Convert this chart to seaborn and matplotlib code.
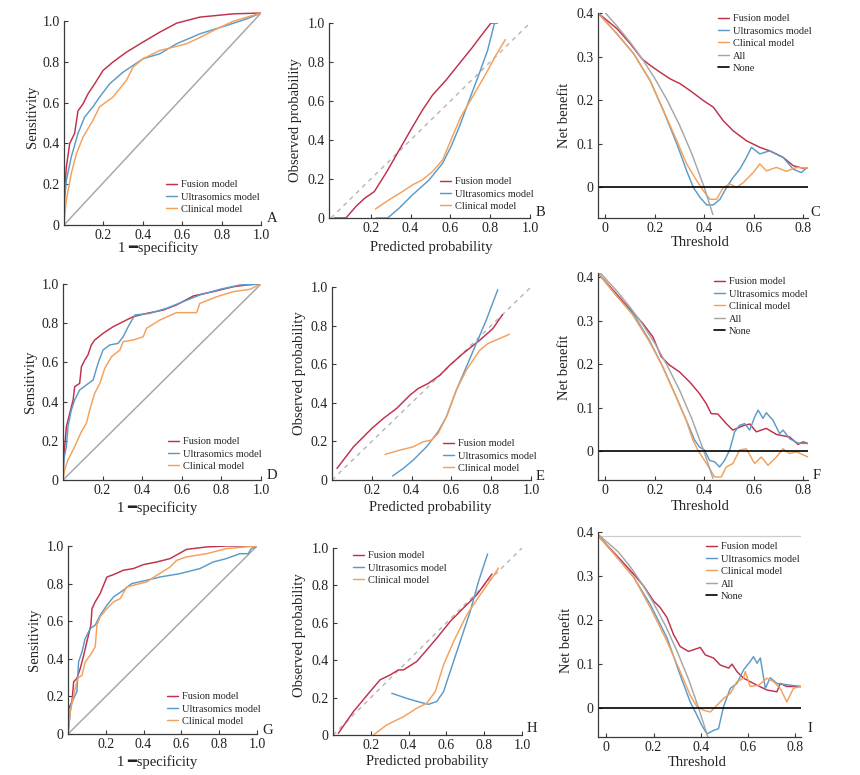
import matplotlib
matplotlib.use('Agg')
import matplotlib.pyplot as plt
from matplotlib.ticker import FuncFormatter
import seaborn as sns

sns.set_theme(style='white')
plt.rcParams['font.family'] = ['Liberation Serif', 'DejaVu Sans']

W, H = 860, 775

RED = '#C0304A'
BLUE = '#5B9BC9'
ORANGE = '#F5A05A'
GRAY = '#A6A6A6'

names = ['Fusion model', 'Ultrasomics model', 'Clinical model']

# ---------------- ROC A ----------------
roc_a_fus_x = [0, 0.0, 0.012, 0.029, 0.054, 0.071, 0.097, 0.122, 0.156, 0.198, 0.249, 0.317, 0.40, 0.486, 0.571, 0.69, 0.86, 1.0]
roc_a_fus_y = [0, 0.14, 0.285, 0.40, 0.45, 0.56, 0.595, 0.644, 0.693, 0.758, 0.80, 0.848, 0.897, 0.946, 0.99, 1.02, 1.036, 1.04]
roc_a_ult_x = [0, 0.003, 0.012, 0.037, 0.071, 0.105, 0.147, 0.181, 0.232, 0.30, 0.351, 0.402, 0.486, 0.571, 0.69, 0.825, 0.927, 1.0]
roc_a_ult_y = [0, 0.12, 0.22, 0.334, 0.449, 0.53, 0.58, 0.628, 0.693, 0.75, 0.783, 0.816, 0.84, 0.889, 0.938, 0.979, 1.011, 1.04]
roc_a_cli_x = [0, 0.005, 0.012, 0.037, 0.063, 0.097, 0.147, 0.181, 0.249, 0.317, 0.351, 0.402, 0.486, 0.622, 0.69, 0.775, 0.86, 1.0]
roc_a_cli_y = [0, 0.06, 0.122, 0.253, 0.35, 0.432, 0.514, 0.58, 0.628, 0.71, 0.775, 0.816, 0.856, 0.889, 0.92, 0.962, 1.0, 1.04]
roc_a_diag_y = [0, 1.04]

# ---------------- ROC D ----------------
roc_d_fus_x = [0, 0.003, 0.017, 0.034, 0.051, 0.059, 0.084, 0.093, 0.11, 0.126, 0.143, 0.16, 0.202, 0.253, 0.304, 0.354, 0.422, 0.506, 0.573, 0.658, 0.759, 0.86, 0.927, 1.0]
roc_d_fus_y = [0, 0.102, 0.272, 0.34, 0.408, 0.476, 0.493, 0.578, 0.612, 0.638, 0.689, 0.714, 0.748, 0.782, 0.808, 0.833, 0.85, 0.867, 0.893, 0.939, 0.961, 0.986, 0.995, 1.0]
roc_d_ult_x = [0, 0.005, 0.017, 0.025, 0.042, 0.059, 0.084, 0.118, 0.152, 0.177, 0.202, 0.236, 0.278, 0.304, 0.329, 0.363, 0.438, 0.523, 0.607, 0.691, 0.793, 0.894, 1.0]
roc_d_ult_y = [0, 0.11, 0.17, 0.272, 0.357, 0.408, 0.459, 0.485, 0.51, 0.595, 0.663, 0.689, 0.697, 0.731, 0.782, 0.842, 0.85, 0.876, 0.91, 0.944, 0.973, 0.995, 1.0]
roc_d_cli_x = [0, 0.008, 0.025, 0.059, 0.093, 0.118, 0.135, 0.16, 0.186, 0.211, 0.245, 0.287, 0.304, 0.354, 0.405, 0.422, 0.489, 0.573, 0.675, 0.691, 0.776, 0.86, 0.944, 1.0]
roc_d_cli_y = [0, 0.051, 0.102, 0.17, 0.247, 0.289, 0.357, 0.442, 0.493, 0.57, 0.629, 0.663, 0.706, 0.714, 0.731, 0.774, 0.816, 0.854, 0.854, 0.901, 0.935, 0.961, 0.973, 1.0]

# ---------------- ROC G ----------------
roc_g_fus_x = [0, 0.004, 0.021, 0.03, 0.047, 0.065, 0.083, 0.104, 0.121, 0.127, 0.144, 0.17, 0.188, 0.206, 0.241, 0.293, 0.346, 0.399, 0.469, 0.54, 0.627, 0.733, 0.838, 1.0]
roc_g_fus_y = [0, 0.136, 0.172, 0.278, 0.296, 0.349, 0.419, 0.508, 0.579, 0.667, 0.703, 0.747, 0.791, 0.835, 0.848, 0.871, 0.88, 0.901, 0.915, 0.933, 0.982, 0.995, 1.0, 1.0]
roc_g_ult_x = [0, 0.007, 0.016, 0.03, 0.047, 0.056, 0.074, 0.091, 0.118, 0.144, 0.17, 0.206, 0.241, 0.293, 0.337, 0.417, 0.487, 0.592, 0.698, 0.768, 0.838, 0.909, 0.953, 0.97, 1.0]
roc_g_ult_y = [0, 0.065, 0.154, 0.189, 0.225, 0.384, 0.437, 0.508, 0.561, 0.579, 0.632, 0.685, 0.729, 0.765, 0.8, 0.818, 0.835, 0.853, 0.88, 0.915, 0.933, 0.959, 0.959, 0.986, 1.0]
roc_g_cli_x = [0, 0.012, 0.03, 0.051, 0.074, 0.091, 0.118, 0.144, 0.153, 0.17, 0.206, 0.241, 0.276, 0.311, 0.346, 0.417, 0.469, 0.54, 0.575, 0.627, 0.733, 0.838, 0.943, 1.0]
roc_g_cli_y = [0, 0.119, 0.207, 0.296, 0.313, 0.384, 0.419, 0.464, 0.579, 0.623, 0.667, 0.703, 0.72, 0.782, 0.791, 0.809, 0.844, 0.888, 0.924, 0.942, 0.959, 0.986, 0.995, 1.0]

roc_diag_x = [0, 1]
roc_diag_y = [0, 1]

# ---------------- calibration B ----------------
cal_b_fus_x = [0.017, 0.075, 0.126, 0.168, 0.218, 0.276, 0.343, 0.41, 0.46, 0.51, 0.578, 0.645, 0.712, 0.762, 0.804, 0.829]
cal_b_fus_y = [0, 0, 0.06, 0.10, 0.136, 0.23, 0.349, 0.468, 0.554, 0.63, 0.707, 0.792, 0.877, 0.945, 1.0, 1.0]
cal_b_ult_x = [0.226, 0.285, 0.343, 0.41, 0.494, 0.561, 0.603, 0.645, 0.695, 0.745, 0.787, 0.821, 0.838]
cal_b_ult_y = [0, 0, 0.051, 0.119, 0.196, 0.281, 0.366, 0.468, 0.605, 0.741, 0.86, 0.997, 1.0]
cal_b_cli_x = [0.223, 0.293, 0.36, 0.41, 0.46, 0.51, 0.561, 0.603, 0.653, 0.712, 0.779, 0.829, 0.876]
cal_b_cli_y = [0.046, 0.094, 0.136, 0.17, 0.196, 0.238, 0.298, 0.4, 0.52, 0.622, 0.741, 0.835, 0.915]

# ---------------- calibration E ----------------
cal_e_fus_x = [0.025, 0.108, 0.2, 0.258, 0.325, 0.392, 0.433, 0.483, 0.542, 0.592, 0.658, 0.742, 0.808, 0.857]
cal_e_fus_y = [0.06, 0.172, 0.267, 0.319, 0.371, 0.44, 0.474, 0.5, 0.543, 0.595, 0.655, 0.724, 0.784, 0.857]
cal_e_ult_x = [0.305, 0.358, 0.408, 0.475, 0.533, 0.575, 0.625, 0.675, 0.725, 0.775, 0.833]
cal_e_ult_y = [0.021, 0.06, 0.103, 0.172, 0.25, 0.328, 0.466, 0.586, 0.707, 0.828, 0.986]
cal_e_cli_x = [0.267, 0.342, 0.408, 0.458, 0.5, 0.533, 0.575, 0.625, 0.675, 0.742, 0.783, 0.842, 0.892]
cal_e_cli_y = [0.133, 0.155, 0.172, 0.198, 0.207, 0.241, 0.328, 0.466, 0.569, 0.672, 0.707, 0.733, 0.755]

# ---------------- calibration H ----------------
cal_h_fus_x = [0.028, 0.108, 0.196, 0.249, 0.302, 0.346, 0.373, 0.443, 0.496, 0.549, 0.62, 0.69, 0.761, 0.841]
cal_h_fus_y = [0.009, 0.125, 0.232, 0.295, 0.321, 0.348, 0.348, 0.393, 0.455, 0.518, 0.607, 0.679, 0.75, 0.861]
cal_h_ult_x = [0.311, 0.39, 0.461, 0.505, 0.549, 0.585, 0.62, 0.673, 0.726, 0.77, 0.818]
cal_h_ult_y = [0.223, 0.196, 0.175, 0.164, 0.179, 0.232, 0.339, 0.5, 0.661, 0.821, 0.968]
cal_h_cli_x = [0.214, 0.284, 0.373, 0.443, 0.496, 0.541, 0.585, 0.638, 0.708, 0.779, 0.841, 0.876]
cal_h_cli_y = [0, 0.054, 0.098, 0.143, 0.17, 0.232, 0.375, 0.5, 0.643, 0.75, 0.839, 0.893]

cal_diag_x = [0, 1]
cal_diag_y = [0, 1]

# ---------------- DCA C ----------------
dca_c_fus_x = [-0.03, 0.047, 0.1, 0.148, 0.181, 0.222, 0.262, 0.302, 0.343, 0.397, 0.437, 0.477, 0.517, 0.571, 0.625, 0.665, 0.719, 0.76, 0.8, 0.82]
dca_c_fus_y = [0.4, 0.364, 0.33, 0.295, 0.28, 0.264, 0.249, 0.238, 0.222, 0.199, 0.184, 0.153, 0.130, 0.107, 0.092, 0.084, 0.069, 0.05, 0.044, 0.044]
dca_c_ult_x = [-0.03, 0.047, 0.114, 0.181, 0.235, 0.289, 0.329, 0.356, 0.383, 0.41, 0.437, 0.464, 0.49, 0.517, 0.544, 0.571, 0.591, 0.625, 0.665, 0.719, 0.76, 0.793, 0.813]
dca_c_ult_y = [0.4, 0.352, 0.307, 0.245, 0.176, 0.1, 0.038, 0.0, -0.023, -0.04, -0.04, -0.027, 0.0, 0.023, 0.042, 0.069, 0.092, 0.077, 0.084, 0.069, 0.042, 0.034, 0.044]
dca_c_cli_x = [-0.03, 0.047, 0.114, 0.181, 0.235, 0.289, 0.329, 0.37, 0.397, 0.423, 0.45, 0.477, 0.504, 0.531, 0.558, 0.598, 0.625, 0.652, 0.692, 0.733, 0.773, 0.82]
dca_c_cli_y = [0.4, 0.352, 0.307, 0.245, 0.176, 0.107, 0.054, 0.015, -0.008, -0.027, -0.027, 0.0, 0.008, 0.0, 0.011, 0.034, 0.054, 0.038, 0.046, 0.037, 0.046, 0.044]
dca_c_all_x = [0.0, 0.05, 0.1, 0.15, 0.2, 0.25, 0.3, 0.35, 0.4, 0.435]
dca_c_all_y = [0.4, 0.368, 0.333, 0.294, 0.25, 0.2, 0.143, 0.077, 0.0, -0.062]

# ---------------- DCA F ----------------
dca_f_fus_x = [-0.03, 0.043, 0.097, 0.151, 0.192, 0.226, 0.259, 0.3, 0.341, 0.381, 0.408, 0.428, 0.455, 0.489, 0.516, 0.557, 0.584, 0.611, 0.651, 0.692, 0.746, 0.78, 0.8, 0.82]
dca_f_fus_y = [0.41, 0.363, 0.328, 0.294, 0.263, 0.217, 0.198, 0.182, 0.159, 0.132, 0.109, 0.086, 0.085, 0.063, 0.048, 0.058, 0.062, 0.044, 0.052, 0.038, 0.032, 0.015, 0.021, 0.017]
dca_f_ult_x = [-0.03, 0.043, 0.111, 0.178, 0.232, 0.286, 0.327, 0.361, 0.381, 0.401, 0.422, 0.442, 0.462, 0.482, 0.503, 0.523, 0.543, 0.564, 0.584, 0.604, 0.618, 0.638, 0.651, 0.678, 0.705, 0.719, 0.746, 0.78, 0.82]
dca_f_ult_y = [0.41, 0.359, 0.317, 0.255, 0.194, 0.125, 0.071, 0.025, 0.009, 0.002, -0.022, -0.025, -0.037, -0.022, 0.002, 0.044, 0.059, 0.063, 0.048, 0.078, 0.094, 0.075, 0.088, 0.071, 0.04, 0.048, 0.028, 0.018, 0.017]
dca_f_cli_x = [-0.03, 0.043, 0.111, 0.178, 0.232, 0.286, 0.327, 0.354, 0.374, 0.401, 0.422, 0.442, 0.469, 0.489, 0.516, 0.543, 0.57, 0.604, 0.631, 0.658, 0.692, 0.719, 0.746, 0.773, 0.82]
dca_f_cli_y = [0.41, 0.359, 0.313, 0.252, 0.194, 0.125, 0.071, 0.025, 0.002, -0.022, -0.041, -0.06, -0.06, -0.037, -0.029, 0.002, 0.005, -0.029, -0.014, -0.033, -0.014, 0.005, -0.006, -0.002, -0.014]
dca_f_all_x = [-0.02, 0.05, 0.1, 0.15, 0.2, 0.25, 0.3, 0.35, 0.4, 0.435]
dca_f_all_y = [0.41, 0.366, 0.331, 0.292, 0.248, 0.197, 0.14, 0.074, -0.003, -0.063]

# ---------------- DCA I ----------------
dca_i_fus_x = [-0.035, 0.045, 0.116, 0.158, 0.2, 0.228, 0.257, 0.285, 0.313, 0.348, 0.37, 0.398, 0.419, 0.454, 0.482, 0.518, 0.532, 0.553, 0.581, 0.609, 0.638, 0.68, 0.722, 0.736, 0.764, 0.824]
dca_i_fus_y = [0.392, 0.346, 0.304, 0.277, 0.243, 0.228, 0.205, 0.166, 0.139, 0.128, 0.132, 0.137, 0.12, 0.113, 0.097, 0.09, 0.099, 0.082, 0.067, 0.059, 0.051, 0.04, 0.036, 0.055, 0.048, 0.048]
dca_i_ult_x = [-0.035, 0.045, 0.116, 0.186, 0.257, 0.313, 0.355, 0.377, 0.405, 0.426, 0.454, 0.475, 0.496, 0.525, 0.553, 0.581, 0.609, 0.623, 0.638, 0.652, 0.673, 0.694, 0.722, 0.779, 0.824]
dca_i_ult_y = [0.392, 0.343, 0.297, 0.235, 0.159, 0.074, 0.013, -0.01, -0.041, -0.06, -0.052, -0.048, 0.002, 0.044, 0.055, 0.086, 0.105, 0.116, 0.101, 0.113, 0.044, 0.068, 0.055, 0.051, 0.048]
dca_i_cli_x = [-0.035, 0.045, 0.116, 0.186, 0.257, 0.313, 0.355, 0.384, 0.412, 0.44, 0.468, 0.496, 0.525, 0.553, 0.581, 0.588, 0.609, 0.645, 0.68, 0.708, 0.736, 0.764, 0.792, 0.824]
dca_i_cli_y = [0.392, 0.343, 0.297, 0.228, 0.151, 0.082, 0.028, 0.002, -0.006, -0.01, 0.005, 0.021, 0.032, 0.059, 0.067, 0.082, 0.048, 0.051, 0.067, 0.059, 0.044, 0.013, 0.044, 0.048]
dca_i_all_x = [-0.035, 0.05, 0.1, 0.15, 0.2, 0.25, 0.3, 0.35, 0.39, 0.43]
dca_i_all_y = [0.395, 0.355, 0.322, 0.283, 0.238, 0.187, 0.128, 0.062, 0.0, -0.067]
dca_i_top_x = [-0.035, 0.824]
dca_i_top_y = [0.392, 0.392]

roc_ticks = [0.2, 0.4, 0.6, 0.8, 1.0]
prob_yticks = [0, 0.2, 0.4, 0.6, 0.8, 1.0]
dca_xticks = [0, 0.2, 0.4, 0.6, 0.8]
dca_yticks = [0, 0.1, 0.2, 0.3, 0.4]

fig = plt.figure(figsize=(W / 100, H / 100), dpi=100)


def px_axes(x0, x1, y0, y1):
    # pixel box: x0/x1 left/right, y0 bottom, y1 top (image coordinates)
    return fig.add_axes([x0 / W, 1 - y0 / H, (x1 - x0) / W, (y0 - y1) / H])


def fmt(v, pos):
    return '0' if abs(v) < 1e-9 else f'{v:.1f}'


def style(ax, xlim, ylim, xticks, yticks, ytop=None):
    ax.set_xlim(xlim)
    ax.set_ylim(ylim)
    ax.set_xticks(xticks)
    ax.set_yticks(yticks)
    ax.xaxis.set_major_formatter(FuncFormatter(fmt))
    ax.yaxis.set_major_formatter(FuncFormatter(fmt))
    for s in ['top', 'right']:
        ax.spines[s].set_visible(False)
    for s in ['left', 'bottom']:
        ax.spines[s].set_color('#3a3a3a')
        ax.spines[s].set_linewidth(0.9)
    if ytop is not None:
        ax.spines['left'].set_bounds(ylim[0], ytop)
    ax.tick_params(bottom=True, left=True, direction='in', length=3, width=0.8,
                   color='#3a3a3a', labelsize=10, labelcolor='#222222', pad=3)
    ax.patch.set_alpha(0)


def line(ax, x, y, color, label=None, lw=1.05, ls='-'):
    sns.lineplot(x=x, y=y, ax=ax, color=color, lw=lw, ls=ls, sort=False,
                 estimator=None, label=label, legend=False)


def labels(ax, xl, yl, xpos, ypos):
    ax.set_xlabel(xl, fontsize=10.5, color='#222222')
    ax.set_ylabel(yl, fontsize=10.5, color='#222222')
    ax.xaxis.set_label_coords(xpos[0] / W, 1 - xpos[1] / H, transform=fig.transFigure)
    ax.yaxis.set_label_coords(ypos[0] / W, 1 - ypos[1] / H, transform=fig.transFigure)
    ax.xaxis.label.set_va('center')
    ax.yaxis.label.set_va('center')


def legend(ax, hx, top, n):
    ax.legend(loc='upper left', bbox_to_anchor=(hx / W, 1 - top / H), bbox_transform=fig.transFigure,
              frameon=False, fontsize=7.5, handlelength=1.1, handletextpad=0.3,
              labelspacing=0.3, borderpad=0, borderaxespad=0)


def letter(ax, s, x, y):
    fig.text(x / W, 1 - y / H, s, fontsize=10.5, ha='center', va='center', color='#222222')


def roc_panel(box, fus, ult, cli, diag_y, ylim, ytop, leg, let, xlab, ylab):
    ax = px_axes(*box)
    line(ax, roc_diag_x, diag_y, GRAY)
    line(ax, fus[0], fus[1], RED, names[0])
    line(ax, ult[0], ult[1], BLUE, names[1])
    line(ax, cli[0], cli[1], ORANGE, names[2])
    style(ax, (0, 1), ylim, roc_ticks, prob_yticks, ytop)
    labels(ax, '1 \u2501specificity', 'Sensitivity', xlab, ylab)
    legend(ax, *leg, 3)
    letter(ax, *let)


def cal_panel(box, fus, ult, cli, xlim, leg, let, xlab, ylab):
    ax = px_axes(*box)
    line(ax, cal_diag_x, cal_diag_y, '#B8B8B8', ls=(0, (3, 3)))
    line(ax, fus[0], fus[1], RED, names[0])
    line(ax, ult[0], ult[1], BLUE, names[1])
    line(ax, cli[0], cli[1], ORANGE, names[2])
    style(ax, xlim, (0, 1), roc_ticks, prob_yticks)
    labels(ax, 'Predicted probability', 'Observed probability', xlab, ylab)
    legend(ax, *leg, 3)
    letter(ax, *let)


def dca_panel(box, fus, ult, cli, alls, xlim, ylim, leg, let, xlab, ylab, top=None):
    ax = px_axes(*box)
    if top is not None:
        line(ax, top[0], top[1], '#CCCCCC', lw=0.9)
    line(ax, fus[0], fus[1], RED, names[0])
    line(ax, ult[0], ult[1], BLUE, names[1])
    line(ax, cli[0], cli[1], ORANGE, names[2])
    line(ax, alls[0], alls[1], GRAY, 'All')
    ax.axhline(0, color='black', lw=1.2, label='None')
    style(ax, xlim, ylim, dca_xticks, dca_yticks)
    labels(ax, 'Threshold', 'Net benefit', xlab, ylab)
    legend(ax, *leg, 5)
    letter(ax, *let)


# row 1
roc_panel((64, 261, 225, 12), (roc_a_fus_x, roc_a_fus_y), (roc_a_ult_x, roc_a_ult_y),
          (roc_a_cli_x, roc_a_cli_y), roc_a_diag_y, (0, 1.045), 1.0,
          (166, 180), ('A', 272, 219), (158, 248), (32, 117))
cal_panel((329, 530, 218, 23), (cal_b_fus_x, cal_b_fus_y), (cal_b_ult_x, cal_b_ult_y),
          (cal_b_cli_x, cal_b_cli_y), (-0.01, 1.0),
          (440, 177), ('B', 540, 213), (431, 247), (295, 120))
dca_panel((598, 808, 218, 13), (dca_c_fus_x, dca_c_fus_y), (dca_c_ult_x, dca_c_ult_y),
          (dca_c_cli_x, dca_c_cli_y), (dca_c_all_x, dca_c_all_y), (-0.03, 0.82), (-0.07, 0.4),
          (718, 14), ('C', 815, 213), (700, 243), (565, 115))

# row 2
roc_panel((63, 261, 480, 284), (roc_d_fus_x, roc_d_fus_y), (roc_d_ult_x, roc_d_ult_y),
          (roc_d_cli_x, roc_d_cli_y), roc_diag_y, (0, 1.0), None,
          (168, 437), ('D', 272, 476), (157, 508), (30, 382))
cal_panel((332, 531, 480, 287), (cal_e_fus_x, cal_e_fus_y), (cal_e_ult_x, cal_e_ult_y),
          (cal_e_cli_x, cal_e_cli_y), (0, 1.0),
          (443, 439), ('E', 540, 477), (430, 508), (300, 373))
dca_panel((598, 808, 480, 273), (dca_f_fus_x, dca_f_fus_y), (dca_f_ult_x, dca_f_ult_y),
          (dca_f_cli_x, dca_f_cli_y), (dca_f_all_x, dca_f_all_y), (-0.03, 0.82), (-0.067, 0.41),
          (714, 277), ('F', 817, 476), (700, 507), (565, 367))

# row 3
roc_panel((68, 257, 734, 546), (roc_g_fus_x, roc_g_fus_y), (roc_g_ult_x, roc_g_ult_y),
          (roc_g_cli_x, roc_g_cli_y), roc_diag_y, (0, 1.0), None,
          (167, 692), ('G', 268, 730), (157, 762), (35, 640))
cal_panel((333, 522, 735, 548), (cal_h_fus_x, cal_h_fus_y), (cal_h_ult_x, cal_h_ult_y),
          (cal_h_cli_x, cal_h_cli_y), (0, 1.0),
          (353, 551), ('H', 532, 728), (427, 762), (300, 635))
dca_panel((598, 801, 737, 532), (dca_i_fus_x, dca_i_fus_y), (dca_i_ult_x, dca_i_ult_y),
          (dca_i_cli_x, dca_i_cli_y), (dca_i_all_x, dca_i_all_y), (-0.035, 0.824), (-0.067, 0.4),
          (706, 542), ('I', 810, 728), (697, 762), (567, 640), top=(dca_i_top_x, dca_i_top_y))

fig.savefig('out.png', dpi=100)
